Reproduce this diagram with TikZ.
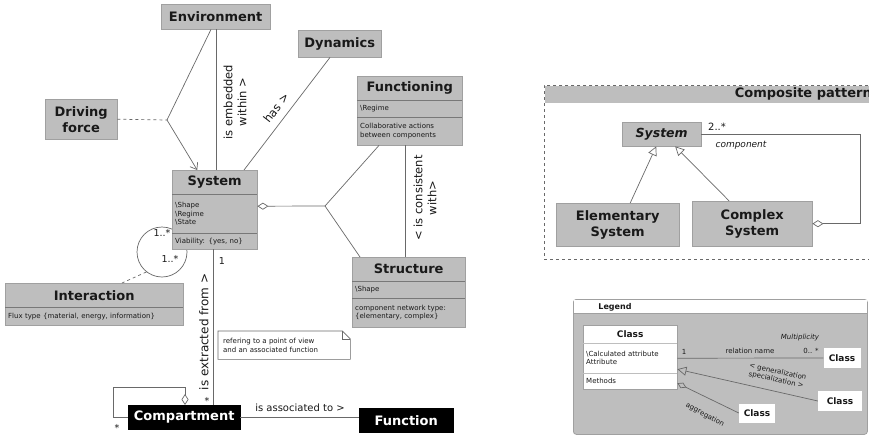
\documentclass[tikz,border=0pt]{standalone}
\usepackage{fontspec}
\setmainfont{DejaVu Sans}
\usetikzlibrary{arrows.meta}
\definecolor{boxgray}{RGB}{190,190,190}
\definecolor{bordergray}{RGB}{160,160,160}
\definecolor{sepgray}{RGB}{120,120,120}
\definecolor{linegray}{RGB}{105,105,105}
\definecolor{txt}{RGB}{25,25,25}
\newcommand\myTitleFont{\bfseries\fontsize{13}{16}\selectfont}
\newcommand\myAttrFont{\fontsize{7}{8.6}\selectfont}
\newcommand\myLblFont{\fontsize{11.5}{14}\selectfont}
\newcommand\myMulFont{\fontsize{9.5}{11}\selectfont}
\newcommand\mySmallFont{\fontsize{7}{8.2}\selectfont}
\tikzset{
  ttl/.style={draw=bordergray, fill=boxgray, anchor=north west, inner sep=0pt, font=\myTitleFont, text=txt, align=center},
  attr/.style={draw=bordergray, fill=boxgray, anchor=north west, inner xsep=3pt, inner ysep=0pt, align=left, font=\myAttrFont, text=txt},
  blk/.style={draw=black, fill=black, anchor=north west, inner sep=0pt, font=\myTitleFont, text=white},
  sepline/.style={draw=sepgray, line width=1.1pt},
  conn/.style={draw=linegray, line width=0.7pt},
  lbl/.style={text=txt, font=\myLblFont, align=center, inner sep=0pt},
  mul/.style={text=txt, font=\myMulFont, inner sep=0pt},
  opentri/.style={-{Triangle[open,length=9pt,width=9pt]}},
  lw/.style={draw=bordergray, fill=white, anchor=north west, inner sep=0pt, text=txt},
  lwc/.style={fill=white, draw=none, font=\bfseries\fontsize{9}{10}\selectfont, inner sep=0pt, text=txt},
  small/.style={text=txt, font=\mySmallFont, inner sep=0pt, align=center}
}
\begin{document}
\begin{tikzpicture}[x=1pt,y=-1pt]
\useasboundingbox (0,0) rectangle (869,436);
\fill[white] (0,0) rectangle (869,436);

% circle (self association) drawn first
\node[circle, draw=linegray, line width=0.7pt, minimum size=50pt, inner sep=0pt] (lp) at (162,252) {};

% boxes
\node[ttl, minimum width=109pt, minimum height=25pt] (env) at (161,4) {Environment};
\node[ttl, minimum width=83pt, minimum height=27pt] (dyn) at (298,30) {Dynamics};
\node[ttl, minimum width=72pt, minimum height=40pt] (drv) at (45,99) {Driving\\force};

\node[ttl, minimum width=105pt, minimum height=24pt] (funT) at (357,76) {Functioning};
\node[attr, text width=99pt, minimum height=17pt] (funA) at (357,100) {\textbackslash Regime};
\node[attr, text width=99pt, minimum height=28pt] (funB) at (357,117) {Collaborative actions\\between components};
\draw[sepline] (funT.south west) -- (funT.south east);
\draw[sepline] (funA.south west) -- (funA.south east);

\node[ttl, minimum width=85pt, minimum height=24pt] (sysT) at (172,170) {System};
\node[attr, text width=79pt, minimum height=39pt] (sysA) at (172,194) {\textbackslash Shape\\\textbackslash Regime\\\textbackslash State};
\node[attr, text width=79pt, minimum height=16pt] (sysB) at (172,233) {Viability: \{yes, no\}};
\draw[sepline] (sysT.south west) -- (sysT.south east);
\draw[sepline] (sysA.south west) -- (sysA.south east);

\node[ttl, minimum width=113pt, minimum height=24pt] (strT) at (352,257) {Structure};
\node[attr, text width=107pt, minimum height=17pt] (strA) at (352,281) {\textbackslash Shape};
\node[attr, text width=107pt, minimum height=29pt] (strB) at (352,298) {component network type:\\\{elementary, complex\}};
\draw[sepline] (strT.south west) -- (strT.south east);
\draw[sepline] (strA.south west) -- (strA.south east);

\node[ttl, minimum width=178pt, minimum height=24pt] (intT) at (5,283) {Interaction};
\node[attr, text width=172pt, minimum height=18pt] (intA) at (5,307) {Flux type \{material, energy, information\}};
\draw[sepline] (intT.south west) -- (intT.south east);

% note
\node[anchor=north west, minimum height=28pt, inner xsep=5pt, inner ysep=0pt, text width=122pt, align=left, font=\myAttrFont, text=txt] (note) at (218,331) {refering to a point of view\\and an associated function};
\draw[draw=linegray, line width=0.6pt] (note.north west) -- ([xshift=-8pt]note.north east) -- ([yshift=-8pt]note.north east) -- (note.south east) -- (note.south west) -- cycle;
\draw[draw=linegray, line width=0.6pt] ([xshift=-8pt]note.north east) -- ([xshift=-8pt,yshift=-8pt]note.north east) -- ([yshift=-8pt]note.north east);

\node[blk, minimum width=112pt, minimum height=24pt] (cmp) at (128,405) {Compartment};
\node[blk, minimum width=94pt, minimum height=24pt] (fnc) at (359,408) {Function};

% connectors
\coordinate (j1) at (167,120);
\draw[conn, -{Straight Barb[length=6pt,width=9pt]}] ([xshift=50pt]env.south west) -- (j1) -- ([xshift=-17.5pt]sysT.north);
\draw[conn, dashed] (drv.east) -- (j1);
\draw[conn] ([xshift=55pt]env.south west) -- ([xshift=44pt]sysT.north west);
\draw[conn] ([xshift=32pt]dyn.south west) -- ([xshift=72pt]sysT.north west);
\coordinate (j2) at (325,206);
\draw[conn, {Diamond[open,length=11pt,width=7pt]}-] ([yshift=7.5pt]sysA.east) -- (j2);
\draw[conn] (j2) -- ([xshift=22pt]funB.south west);
\draw[conn] (j2) -- ([xshift=8pt]strT.north west);
\draw[conn] ([xshift=48pt]funB.south west) -- ([xshift=53pt]strT.north west);
\draw[conn] ([xshift=41pt]sysB.south west) -- ([xshift=85pt]cmp.north west);
\draw[conn, {Diamond[open,length=11pt,width=7pt]}-] ([xshift=57pt]cmp.north west) -- ++(0,-18) -| ([xshift=-15pt]cmp.west) -- (cmp.west);
\draw[conn] (cmp.east) -- (cmp.east -| fnc.west);
\draw[conn, dashed] (lp.232) -- ([xshift=117pt]intT.north west);

% labels
\node[lbl, rotate=90] (l1) at (235,102) {is embedded\\within >};
\node[lbl, rotate=52] (l2) at (276,108) {has >};
\node[lbl, rotate=90] (l3) at (425,198) {< is consistent\\with>};
\node[lbl, rotate=90, font=\fontsize{12}{14}\selectfont] (l4) at (204,332) {is extracted from >};
\node[lbl, font=\fontsize{10}{12}\selectfont] (l5) at (300,408) {is associated to >};
\node[mul] (m1) at (222,261) {1};
\node[mul] (m2) at (162,233) {1..*};
\node[mul] (m3) at (170,259) {1..*};
\node[mul] (m4) at (207,401) {*};
\node[mul] (m5) at (117,428) {*};

% composite pattern
\node[draw=linegray, dashed, line width=0.6pt, minimum width=336pt, minimum height=174pt, anchor=north west, inner sep=0pt] (cpf) at (544,85) {};
\fill[boxgray] ([shift={(0.5pt,-0.5pt)}]cpf.north west) rectangle ([yshift=-18pt]cpf.north east);
\node[anchor=east, font=\myTitleFont, text=txt, inner sep=0pt] (cpt) at (872,94) {Composite pattern};
\node[ttl, minimum width=79pt, minimum height=24pt, font=\bfseries\itshape\fontsize{12.5}{15}\selectfont] (psys) at (622,122) {System};
\node[ttl, minimum width=123pt, minimum height=43pt] (pel) at (556,203) {Elementary\\System};
\node[ttl, minimum width=120pt, minimum height=45pt] (pcx) at (692,201) {Complex\\System};
\draw[conn, opentri] ([xshift=12.5pt]pel.north) -- ([xshift=-5.5pt]psys.south);
\draw[conn, opentri] ([xshift=-23pt]pcx.north) -- ([xshift=13.5pt]psys.south);
\draw[conn, {Diamond[open,length=11pt,width=7pt]}-] (pcx.east) -- ++(48,0) |- (psys.east);
\node[mul, font=\fontsize{10}{12}\selectfont] (pm) at (717,127) {2..*};
\node[mul, font=\itshape\fontsize{9}{11}\selectfont] (pc) at (741,145) {component};

% legend
\node[draw=bordergray, fill=boxgray, rounded corners=3pt, line width=0.8pt, minimum width=294pt, minimum height=135pt, anchor=north west, inner sep=0pt] (lgd) at (573,299) {};
\fill[white] ([shift={(1pt,-1pt)}]lgd.north west) rectangle ([shift={(-1pt,-14pt)}]lgd.north east);
\draw[draw=bordergray, line width=0.8pt] ([yshift=-14pt]lgd.north west) -- ([yshift=-14pt]lgd.north east);
\node[text=txt, font=\bfseries\fontsize{8}{10}\selectfont, inner sep=0pt] (lgt) at (615,307) {Legend};
\node[lw, minimum width=94pt, minimum height=18pt, font=\bfseries\fontsize{9}{10}\selectfont] (lcT) at (583,325) {Class};
\node[lw, minimum width=94pt, minimum height=30pt, inner xsep=3pt, text width=88pt, align=left, font=\mySmallFont] (lcA) at (583,343) {\textbackslash Calculated attribute\\Attribute};
\node[lw, minimum width=94pt, minimum height=16pt, inner xsep=3pt, text width=88pt, align=left, font=\mySmallFont] (lcM) at (583,373) {Methods};
\draw[draw=boxgray, line width=1.5pt] (lcT.south west) -- (lcT.south east);
\draw[draw=boxgray, line width=1.5pt] (lcA.south west) -- (lcA.south east);
\node[lwc, minimum width=37pt, minimum height=20pt] (lc1) at (842,358) {Class};
\node[lwc, minimum width=44pt, minimum height=20pt] (lc2) at (840,401) {Class};
\node[lwc, minimum width=36pt, minimum height=19pt] (lc3) at (757,413) {Class};
\draw[conn] (lcA.east) -- (lc1.west);
\draw[conn, opentri] (lc2.west) -- ([yshift=-11pt]lcA.east);
\draw[conn, -{Diamond[open,length=10pt,width=6pt]}] (lc3.west) -- ([yshift=-2pt]lcM.east);
\node[small] (s1) at (684,352) {1};
\node[small] (s2) at (750,351) {relation name};
\node[small] (s3) at (811,351) {0.. *};
\node[small, font=\itshape\mySmallFont] (s4) at (800,338) {Multiplicity};
\node[small, rotate=-12] (s5) at (777,376) {< generalization\\specialization >};
\node[small, rotate=-28] (s6) at (705,415) {aggregation};
\end{tikzpicture}
\end{document}
